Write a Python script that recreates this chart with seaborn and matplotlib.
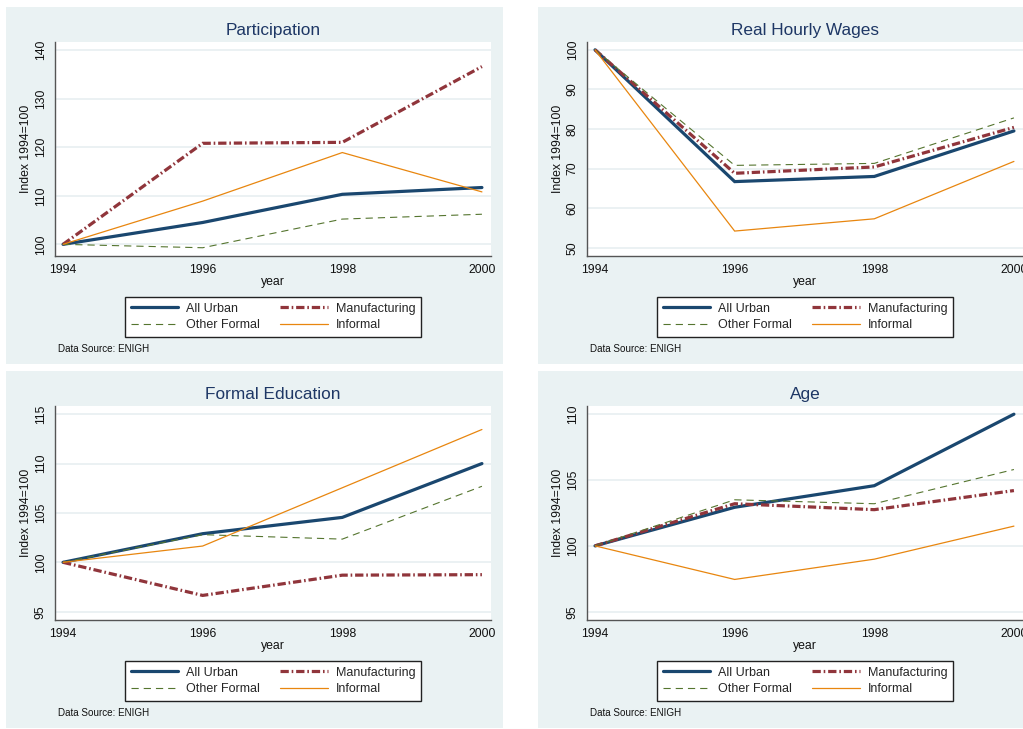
import matplotlib
matplotlib.use("Agg")
import matplotlib.pyplot as plt
from matplotlib.patches import Rectangle
import seaborn as sns
import pandas as pd

# ---- data: indices, 1994 = 100 ----
years = [1994, 1996, 1998, 2000]
series_names = ["All Urban", "Manufacturing", "Other Formal", "Informal"]

participation_all_urban = [100, 104.5, 110.3, 111.7]
participation_manufacturing = [100, 120.8, 121.0, 136.6]
participation_other_formal = [100, 99.3, 105.2, 106.2]
participation_informal = [100, 108.9, 118.9, 110.8]

wages_all_urban = [100, 66.7, 68.0, 79.5]
wages_manufacturing = [100, 68.8, 70.4, 80.4]
wages_other_formal = [100, 70.8, 71.3, 82.8]
wages_informal = [100, 54.2, 57.3, 71.8]

education_all_urban = [100, 102.9, 104.55, 110.0]
education_manufacturing = [100, 96.65, 98.7, 98.75]
education_other_formal = [100, 102.8, 102.35, 107.7]
education_informal = [100, 101.65, 107.55, 113.45]

age_all_urban = [100, 102.93, 104.57, 110.0]
age_manufacturing = [100, 103.2, 102.75, 104.2]
age_other_formal = [100, 103.5, 103.2, 105.8]
age_informal = [100, 97.45, 98.99, 101.5]

panel_titles = ["Participation", "Real Hourly Wages", "Formal Education", "Age"]
panel_yticks = [
    [100, 110, 120, 130, 140],
    [50, 60, 70, 80, 90, 100],
    [95, 100, 105, 110, 115],
    [95, 100, 105, 110],
]
panel_ylims = [(97.6, 141.6), (47.9, 101.9), (94.16, 115.8), (94.37, 110.6)]

panels = [
    [participation_all_urban, participation_manufacturing,
     participation_other_formal, participation_informal],
    [wages_all_urban, wages_manufacturing, wages_other_formal, wages_informal],
    [education_all_urban, education_manufacturing,
     education_other_formal, education_informal],
    [age_all_urban, age_manufacturing, age_other_formal, age_informal],
]

# ---- styling ----
W, H = 1023, 729
BG = "#EAF2F3"
GRID = "#E6EEF0"
AXIS = "#555555"
TITLE = "#1E3765"
palette = {"All Urban": "#1A476F", "Manufacturing": "#90353B",
           "Other Formal": "#55752F", "Informal": "#E8860F"}
sizes = {"All Urban": 2.3, "Manufacturing": 2.3,
         "Other Formal": 0.8, "Informal": 0.9}
dashes = {"All Urban": "", "Manufacturing": (2.6, 0.9, 0.5, 0.9),
          "Other Formal": (6.5, 4.5), "Informal": ""}

sns.set_theme(style="white")
plt.rcParams["font.family"] = ["Liberation Sans", "DejaVu Sans"]

fig = plt.figure(figsize=(W / 100, H / 100), dpi=100)
fig.patch.set_facecolor("white")


def fx(x):
    return x / W


def fy(y):
    return 1 - y / H


panel_offsets = [(0, 0), (532, 0), (0, 364), (532, 364)]

for idx, (dx, dy) in enumerate(panel_offsets):
    # panel background
    fig.patches.append(Rectangle((fx(6 + dx), fy(7 + dy + 357)), 497 / W, 357 / H,
                                 transform=fig.transFigure, facecolor=BG,
                                 edgecolor="none", zorder=-5))

    x0, x1 = 55 + dx, 491 + dx
    y0, y1 = 42.3 + dy, 256 + dy
    ax = fig.add_axes([fx(x0), fy(y1), (x1 - x0) / W, (y1 - y0) / H])
    ax.set_zorder(2)
    ax.set_facecolor("white")

    vals = panels[idx]
    df = pd.DataFrame({
        "year": years * 4,
        "value": [v for s in vals for v in s],
        "series": [n for n in series_names for _ in years],
    })
    sns.lineplot(data=df, x="year", y="value", hue="series", size="series",
                 style="series", palette=palette, sizes=sizes, dashes=dashes,
                 hue_order=series_names, size_order=series_names,
                 style_order=series_names, legend=False, ax=ax,
                 solid_joinstyle="miter", dash_joinstyle="miter")

    ax.set_xlim(1993.885, 2000.13)
    ax.set_ylim(*panel_ylims[idx])
    ax.set_xticks(years)
    ax.set_yticks(panel_yticks[idx])
    ax.set_xticklabels([str(y) for y in years])
    ax.set_yticklabels([str(t) for t in panel_yticks[idx]], rotation=90, va="center")
    ax.grid(axis="y", color=GRID, linewidth=1.1, zorder=0)
    ax.set_axisbelow(True)
    for side in ["top", "right"]:
        ax.spines[side].set_visible(False)
    for side in ["left", "bottom"]:
        ax.spines[side].set_color(AXIS)
        ax.spines[side].set_linewidth(1.0)
    ax.tick_params(axis="both", direction="out", length=4, width=0.8,
                   color=AXIS, labelsize=8.8, labelcolor="#111111")
    ax.tick_params(axis="x", pad=1.5)
    ax.tick_params(axis="y", pad=2.0)

    ax.set_xlabel("year", fontsize=8.8, color="#111111")
    ax.xaxis.set_label_coords(0.5, (256 - 282) / (y1 - y0))
    ax.xaxis.label.set_va("center")
    ax.set_ylabel("Index 1994=100", fontsize=8.8, color="#111111")
    ax.yaxis.set_label_coords((26 - 55) / (x1 - x0), 0.5)
    ax.yaxis.label.set_va("center")

    fig.text(fx(273 + dx), fy(34.7 + dy), panel_titles[idx], ha="center",
             va="baseline", fontsize=12.4, color=TITLE)

    handles = [ax.lines[0], ax.lines[2], ax.lines[1], ax.lines[3]]
    labels = [series_names[0], series_names[2], series_names[1], series_names[3]]
    leg = fig.legend(handles, labels, loc="center",
                     bbox_to_anchor=(fx(273 + dx), fy(317 + dy)), ncol=2,
                     fontsize=9, frameon=True, fancybox=False, framealpha=1,
                     edgecolor="#222222", facecolor="white", handlelength=3.8,
                     handletextpad=0.65, columnspacing=1.6, borderpad=0.45,
                     labelspacing=0.35, borderaxespad=0)
    leg.get_frame().set_linewidth(1.0)

    fig.text(fx(58.3 + dx), fy(352 + dy), "Data Source: ENIGH", ha="left",
             va="baseline", fontsize=7.1, color="#111111")

fig.savefig("out.png", dpi=100, facecolor="white")
